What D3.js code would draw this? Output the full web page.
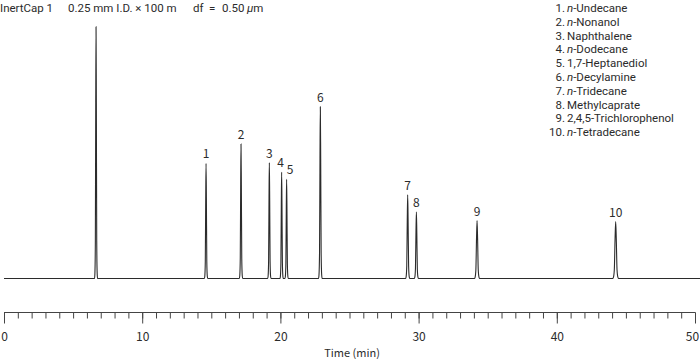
<!DOCTYPE html>
<html>
<head>
<meta charset="utf-8">
<script src="https://cdn.jsdelivr.net/npm/d3@7"></script>
<style>
  html, body { margin: 0; padding: 0; background: #fff; }
  svg { display: block; }
  text { font-family: "Noto Sans CJK JP", "Noto Sans", sans-serif; fill: #2b2b2b; }
  .tight { font-family: Roboto, "Noto Sans", sans-serif; }
</style>
</head>
<body>
<svg id="chart" width="700" height="359"></svg>
<script>
// ---- data ----
const peakLabels = ["", "1", "2", "3", "4", "5", "6", "7", "8", "9", "10"];
const retentionTimes = [6.66, 14.62, 17.15, 19.2, 20.09, 20.45, 22.89, 29.21, 29.84, 34.23, 44.26];
const peakHeights = [100, 45.7, 53.4, 46.0, 42.2, 39.4, 68.2, 33.2, 26.5, 23.0, 22.6];
const peakHalfWidths = [0.11, 0.12, 0.12, 0.12, 0.12, 0.12, 0.13, 0.15, 0.15, 0.19, 0.22];
// peak profile: relative offset (x half-width) and relative height
const profileOffsets = [-1, -0.75, -0.45, -0.2, 0, 0.2, 0.45, 0.75, 1];
const profileHeights = [0, 0.02, 0.15, 0.7, 1, 0.7, 0.15, 0.02, 0];
const compoundNumbers = ["1.", "2.", "3.", "4.", "5.", "6.", "7.", "8.", "9.", "10."];
const compoundPrefixes = ["n", "n", "", "n", "", "n", "n", "", "", "n"];
const compoundNames = ["-Undecane", "-Nonanol", "Naphthalene", "-Dodecane", "1,7-Heptanediol", "-Decylamine", "-Tridecane", "Methylcaprate", "2,4,5-Trichlorophenol", "-Tetradecane"];
const xTicks = [0, 10, 20, 30, 40, 50];
const xMinorTicks = d3.range(0, 51, 1);
const timeRange = [0, 50.4];

// ---- chart ----
const svg = d3.select("#chart");
const x = d3.scaleLinear().domain([0, 50]).range([4, 695]);
const y = d3.scaleLinear().domain([0, 100]).range([278.5, 26.7]);

// build trace points
let pts = [[timeRange[0], 0]];
retentionTimes.forEach((rt, i) => {
  profileOffsets.forEach((o, j) => {
    pts.push([rt + o * peakHalfWidths[i], profileHeights[j] * peakHeights[i]]);
  });
});
pts.push([timeRange[1], 0]);

const line = d3.line().x(d => x(d[0])).y(d => y(d[1])).curve(d3.curveMonotoneX);
svg.append("path").attr("d", line(pts))
  .attr("fill", "none").attr("stroke", "#2b2b2b").attr("stroke-width", 1.1);

// peak labels
const labelDx = [0, 0, 0, 0, -1, 3.5, 0, 0, 0, 0, 0];
svg.selectAll("text.pl").data(retentionTimes).join("text")
  .attr("class", "pl")
  .attr("x", (d, i) => x(d) + labelDx[i])
  .attr("y", (d, i) => y(peakHeights[i]) - 5)
  .attr("text-anchor", "middle")
  .attr("font-size", 12)
  .text((d, i) => peakLabels[i]);

// axis
const axisY = 312.5;
const axisG = svg.append("g").attr("transform", `translate(0,${axisY})`);
axisG.call(d3.axisBottom(x).tickValues(xMinorTicks).tickSize(6).tickFormat(""))
  .call(g => g.select(".domain").remove());
const major = axisG.append("g").call(d3.axisBottom(x).tickValues(xTicks).tickSize(11).tickPadding(9).tickFormat(d3.format("d")))
  .call(g => g.select(".domain").attr("d", `M${x(0)},0H${x(50)}`));
axisG.selectAll("line").attr("stroke", "#444").attr("stroke-width", 1);
axisG.selectAll(".domain").attr("stroke", "#444").attr("stroke-width", 1.2);
major.selectAll("text").attr("font-size", 12).attr("fill", "#2b2b2b")
  .attr("font-family", "\"Noto Sans CJK JP\", \"Noto Sans\", sans-serif")
  .attr("dx", d => d === 50 ? -3 : 0);

svg.append("text").attr("x", 352).attr("y", 356.5).attr("text-anchor", "middle")
  .attr("font-size", 11).text("Time (min)");

// title
const title = svg.append("text").attr("class", "tight").attr("y", 12).attr("font-size", 11.5);
title.append("tspan").attr("x", 0).text("InertCap 1");
title.append("tspan").attr("x", 68).text("0.25 mm I.D. × 100 m");
title.append("tspan").attr("x", 193).text("df");
title.append("tspan").attr("x", 209).text("=");
title.append("tspan").attr("x", 222).text("0.50");
title.append("tspan").attr("x", 247).attr("font-style", "italic").text("μ");
title.append("tspan").text("m");

// legend
const leg = svg.append("g");
compoundNames.forEach((nm, i) => {
  const yy = 12 + i * 13.8;
  const t = leg.append("text").attr("class", "tight").attr("y", yy).attr("font-size", 11.5);
  t.append("tspan").attr("x", 565).attr("text-anchor", "end").text(compoundNumbers[i]);
  const first = t.append("tspan").attr("x", 567).attr("text-anchor", "start");
  if (compoundPrefixes[i]) {
    first.attr("font-style", "italic").text(compoundPrefixes[i]);
    t.append("tspan").attr("text-anchor", "start").text(nm);
  } else {
    first.text(nm);
  }
});
</script>
</body>
</html>
